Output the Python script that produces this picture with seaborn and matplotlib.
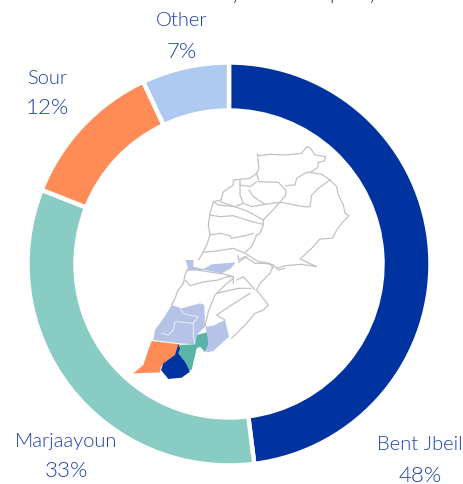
import matplotlib
matplotlib.use('Agg')
import matplotlib.pyplot as plt
import seaborn as sns

sns.set_style('white')
plt.rcParams['font.family'] = ['Lato', 'DejaVu Sans']

# 도넛 데이터
labels = ['Bent Jbeil', 'Marjaayoun', 'Sour', 'Other']
values = [48, 33, 12, 7]
colors = ['#0033A0', '#88CCC4', '#FF8C57', '#AFCAF0']
text_color = '#1B41AA'

# 지도 북쪽 경계선 (참조 이미지 확대 좌표, 원점 195,145)
north_lines = [
    [(187,28),(195,32),(225,28),(270,30),(320,25),(335,5),(345,8),(360,30),(392,35),(388,48),(370,52),(368,68),(345,82),(380,88),(405,105),(425,125),(430,150),(445,180),(450,205),(462,212),(440,235),(425,255),(412,280),(375,282),(350,310),(315,342),(365,365),(320,358),(270,362),(245,370)],
    [(187,28),(192,70),(185,85),(165,100),(115,105),(115,120),(85,140),(78,165),(55,170),(45,205),(40,240),(45,270),(35,300),(20,330),(10,345)],
    [(185,85),(192,110),(250,112),(272,135),(272,150),(255,172)],
    [(255,172),(205,225),(205,240),(195,265),(185,270),(170,305),(150,322)],
    [(272,122),(300,120),(305,100),(335,82),(345,82)],
    [(405,105),(370,130),(350,150),(345,185),(325,185),(290,178),(255,172)],
    [(135,105),(135,150),(145,175),(120,185),(75,170)],
    [(162,135),(175,155),(210,178),(250,172)],
    [(185,110),(165,125),(135,120)],
    [(120,185),(160,200),(205,225)],
    [(145,175),(170,185),(210,178)],
    [(55,170),(70,180),(120,185)],
    [(45,210),(75,215),(115,212),(170,230),(205,238)],
    [(45,270),(75,265),(105,272),(110,280),(150,272),(175,265)],
    [(25,322),(65,318),(115,310),(150,325),(190,350),(225,355),(235,370)],
    [(155,335),(130,352)],
]
# 지도 남쪽 경계선 (원점 125,255)
south_lines = [
    [(190,40),(180,60),(175,85),(160,105),(150,130),(140,150)],
    [(180,75),(195,92),(240,80),(280,75),(305,65),(325,65)],
    [(340,0),(340,15),(360,5),(390,25),(420,25),(445,30),(435,55),(405,85),(395,105),(430,150),(415,165),(390,175),(360,210),(320,250)],
    [(325,70),(300,90),(270,120),(250,170),(240,215)],
    [(335,75),(355,65),(390,105)],
    [(275,115),(340,100),(378,100)],
    [(375,115),(320,150),(275,180),(300,195)],
    [(185,45),(215,45),(300,58),(325,65),(325,85)],
    [(445,30),(460,45),(480,40)],
]
other_areas = [
    [(140,150),(170,160),(225,145),(238,150),(240,215),(215,240),(210,268),(165,265),(85,255),(90,225),(115,190)],
    [(300,195),(312,245),(290,265),(265,288),(245,292),(240,270),(245,235),(242,215),(265,212)],
    [(182,15),(205,15),(205,35),(235,42),(260,28),(332,22),(318,40),(290,55),(240,45),(190,45)],
]
other_lines = [
    [(165,160),(175,175),(190,180),(220,185),(205,205),(205,240),(210,268)],
    [(110,235),(130,240),(145,225),(150,200),(205,205)],
]
marjaayoun_area = [(215,240),(245,232),(250,265),(240,292),(225,275),(215,280),(200,345),(185,345),(180,320),(160,295),(165,270),(210,268)]
sour_area = [(80,258),(165,268),(160,295),(125,320),(108,335),(105,352),(25,355),(55,330),(70,285)]
bent_jbeil_area = [(160,268),(165,280),(160,295),(180,320),(195,350),(170,368),(130,372),(108,345),(115,325),(150,300)]


def north(pts):
    return zip(*[(195 + x / 3, 484 - (145 + y / 3)) for x, y in pts])


def south(pts):
    return zip(*[(125 + x / 3, 484 - (255 + y / 3)) for x, y in pts])


fig = plt.figure(figsize=(4.63, 4.84), dpi=100)
ax = fig.add_axes([0, 0, 1, 1])

palette = sns.color_palette(colors)
ax.pie(values, colors=palette, startangle=90, counterclock=False,
       center=(229, 220), radius=201.5,
       wedgeprops=dict(width=48, edgecolor='white', linewidth=3.2))

for line in north_lines:
    ax.plot(*north(line), color='#C2C2C2', lw=0.9, zorder=3)
for line in south_lines:
    ax.plot(*south(line), color='#C2C2C2', lw=0.9, zorder=3)
for area in other_areas:
    ax.fill(*south(area), color='#B4C3E6', lw=0, zorder=4)
for line in other_lines:
    ax.plot(*south(line), color='#E4E9F6', lw=0.8, zorder=5)
ax.fill(*south(marjaayoun_area), color='#5AB5A8', lw=0, zorder=6)
ax.fill(*south(sour_area), color='#FF8C57', lw=0, zorder=6)
ax.fill(*south(bent_jbeil_area), color='#0033A0', lw=0, zorder=7)

ax.set_xlim(0, 463)
ax.set_ylim(0, 484)
ax.set_aspect('equal')
ax.axis('off')

# 라벨
label_pos = {'Bent Jbeil': (420, 445, 476), 'Marjaayoun': (66, 441, 471), 'Sour': (47, 79, 108), 'Other': (182, 21, 52)}
for name, value in zip(labels, values):
    x, y1, y2 = label_pos[name]
    ax.text(x, 484 - y1, name, color=text_color, fontsize=14.5, fontweight=300, ha='center', va='center')
    ax.text(x, 484 - y2, f'{value}%', color=text_color, fontsize=16, fontweight=300, ha='center', va='center')

# 위쪽에 잘린 제목의 꼬리 부분만 보임
for ch, x in [('y', 236), ('p', 335), ('y', 373)]:
    ax.text(x, 485, ch, color=text_color, fontsize=15, fontweight=300, ha='center', va='baseline')

fig.savefig('out.png', dpi=100)
